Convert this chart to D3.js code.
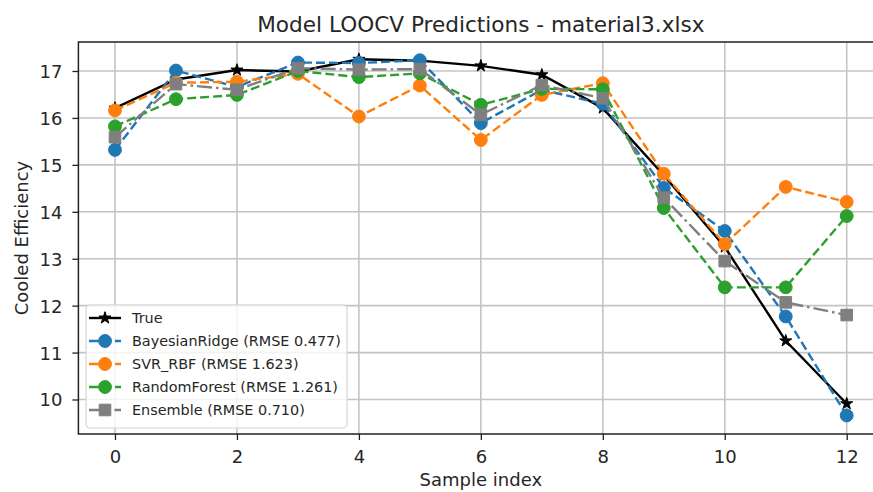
<!DOCTYPE html>
<html>
<head>
<meta charset="utf-8">
<script src="https://cdn.jsdelivr.net/npm/d3@7"></script>
<style>
    body { margin: 0; background: #fff; }
    text { font-family: "DejaVu Sans", sans-serif; fill: #262626; }
</style>
</head>
<body>
<div id="chart"></div>
<script>

//--- Daten -------------------------------------------------------------------------------------------------- //

var sampleIndex = [0, 1, 2, 3, 4, 5, 6, 7, 8, 9, 10, 11, 12];

var trueValues     = [16.21, 16.82, 17.02, 16.99, 17.25, 17.22, 17.11, 16.92, 16.21, 14.78, 13.25, 11.25, 9.91];
var bayesValues    = [15.32, 17.01, 16.66, 17.18, 17.17, 17.23, 15.89, 16.60, 16.30, 14.51, 13.59, 11.77, 9.66];
var svrValues      = [16.16, 16.75, 16.77, 16.94, 16.03, 16.69, 15.53, 16.49, 16.74, 14.81, 13.31, 14.53, 14.21];
var forestValues   = [15.82, 16.40, 16.49, 17.00, 16.87, 16.95, 16.28, 16.62, 16.61, 14.08, 12.39, 12.39, 13.91];
var ensembleValues = [15.59, 16.72, 16.60, 17.06, 17.03, 17.04, 16.07, 16.70, 16.42, 14.30, 12.95, 12.07, 11.80];

var seriesNames = ['True', 'BayesianRidge (RMSE 0.477)', 'SVR_RBF (RMSE 1.623)', 'RandomForest (RMSE 1.261)', 'Ensemble (RMSE 0.710)'];

var xTicks = [0, 2, 4, 6, 8, 10, 12];
var yTicks = [10, 11, 12, 13, 14, 15, 16, 17];

var titleText = 'Model LOOCV Predictions - material3.xlsx';
var xLabel = 'Sample index';
var yLabel = 'Cooled Efficiency';


//--- Stile -------------------------------------------------------------------------------------------------- //

var styles = [
    { color: '#000000', dash: null,          marker: d3.symbolStar,   size: 45 },
    { color: '#1f77b4', dash: '9,4',         marker: d3.symbolCircle, size: 130 },
    { color: '#ff7f0e', dash: '9,4',         marker: d3.symbolCircle, size: 130 },
    { color: '#2ca02c', dash: '9,4',         marker: d3.symbolCircle, size: 130 },
    { color: '#7f7f7f', dash: '15,4,2.5,4',  marker: d3.symbolSquare, size: 135 }
];


//--- Chart -------------------------------------------------------------------------------------------------- //

function renderChart() {

    var width = 873, height = 492;
    var left = 78.4, right = 883.3, top = 42, bottom = 434;

    var svg = d3.select('#chart').append('svg')
        .attr('width', width)
        .attr('height', height);

    var x = d3.scaleLinear().domain([-0.6, 12.6]).range([left, right]);
    var y = d3.scaleLinear().domain([9.265, 17.618]).range([bottom, top]);

    // Gitter
    var grid = svg.append('g').attr('class', 'grid');
    grid.selectAll('.gx').data(xTicks).enter().append('line')
        .attr('x1', function (d) { return x(d); })
        .attr('x2', function (d) { return x(d); })
        .attr('y1', top).attr('y2', bottom)
        .attr('stroke', '#c4c4c4').attr('stroke-width', 1.6);
    grid.selectAll('.gy').data(yTicks).enter().append('line')
        .attr('x1', left).attr('x2', right)
        .attr('y1', function (d) { return y(d); })
        .attr('y2', function (d) { return y(d); })
        .attr('stroke', '#c4c4c4').attr('stroke-width', 1.6);

    // Achsen
    var xAxis = svg.append('g')
        .attr('transform', 'translate(0,' + bottom + ')')
        .call(d3.axisBottom(x).tickValues(xTicks).tickSize(6).tickFormat(d3.format('d')));
    var yAxis = svg.append('g')
        .attr('transform', 'translate(' + left + ',0)')
        .call(d3.axisLeft(y).tickValues(yTicks).tickSize(6).tickFormat(d3.format('d')));

    [xAxis, yAxis].forEach(function (ax) {
        ax.select('.domain').remove();
        ax.selectAll('.tick line').attr('stroke', '#222').attr('stroke-width', 1.3);
        ax.selectAll('.tick text')
            .style('font-size', '18px')
            .style('font-family', '"DejaVu Sans", sans-serif')
            .attr('fill', '#262626');
    });

    xAxis.selectAll('.tick text').attr('y', 29).attr('dy', null);
    yAxis.selectAll('.tick text').attr('x', -16).attr('dy', '0.36em');

    // Linien
    var allSeries = [trueValues, bayesValues, svrValues, forestValues, ensembleValues];

    var line = d3.line()
        .x(function (d, i) { return x(sampleIndex[i]); })
        .y(function (d) { return y(d); });

    var plot = svg.append('g');

    allSeries.forEach(function (values, k) {
        var st = styles[k];
        plot.append('path')
            .datum(values)
            .attr('d', line)
            .attr('fill', 'none')
            .attr('stroke', st.color)
            .attr('stroke-width', 2.4)
            .attr('stroke-dasharray', st.dash);

        plot.selectAll('.m' + k).data(values).enter().append('path')
            .attr('class', 'm' + k)
            .attr('d', d3.symbol().type(st.marker).size(st.size))
            .attr('fill', st.color)
            .attr('stroke', st.color)
            .attr('stroke-width', 1)
            .attr('transform', function (d, i) { return 'translate(' + x(sampleIndex[i]) + ',' + y(d) + ')'; });
    });

    // Rahmen
    svg.append('rect')
        .attr('x', left).attr('y', top)
        .attr('width', right - left).attr('height', bottom - top)
        .attr('fill', 'none')
        .attr('stroke', '#222').attr('stroke-width', 1.5);

    // Titel + Achsenbeschriftung
    svg.append('text')
        .attr('x', (left + right) / 2).attr('y', 31.5)
        .attr('text-anchor', 'middle')
        .style('font-size', '21.6px')
        .text(titleText);

    svg.append('text')
        .attr('x', (left + right) / 2).attr('y', 486)
        .attr('text-anchor', 'middle')
        .style('font-size', '18px')
        .text(xLabel);

    svg.append('text')
        .attr('transform', 'translate(28,' + ((top + bottom) / 2) + ') rotate(-90)')
        .attr('text-anchor', 'middle')
        .style('font-size', '18px')
        .text(yLabel);

    renderLegend(svg);
}


//--- Legende ------------------------------------------------------------------------------------------------ //

function renderLegend(svg) {

    var lg = svg.append('g').attr('transform', 'translate(86,305)');

    lg.append('rect')
        .attr('width', 261).attr('height', 123)
        .attr('rx', 4).attr('ry', 4)
        .attr('fill', '#fff').attr('fill-opacity', 0.8)
        .attr('stroke', '#d6d6d6').attr('stroke-width', 1.2);

    seriesNames.forEach(function (name, k) {
        var st = styles[k];
        var rowY = 13 + k * 23;

        lg.append('line')
            .attr('x1', 3).attr('x2', 35)
            .attr('y1', rowY).attr('y2', rowY)
            .attr('stroke', st.color).attr('stroke-width', 2.4)
            .attr('stroke-dasharray', st.dash);

        lg.append('path')
            .attr('d', d3.symbol().type(st.marker).size(st.size))
            .attr('fill', st.color).attr('stroke', st.color)
            .attr('transform', 'translate(19,' + rowY + ')');

        lg.append('text')
            .attr('x', 46).attr('y', rowY + 5)
            .style('font-size', '14.4px')
            .text(name);
    });
}


renderChart();

</script>
</body>
</html>
